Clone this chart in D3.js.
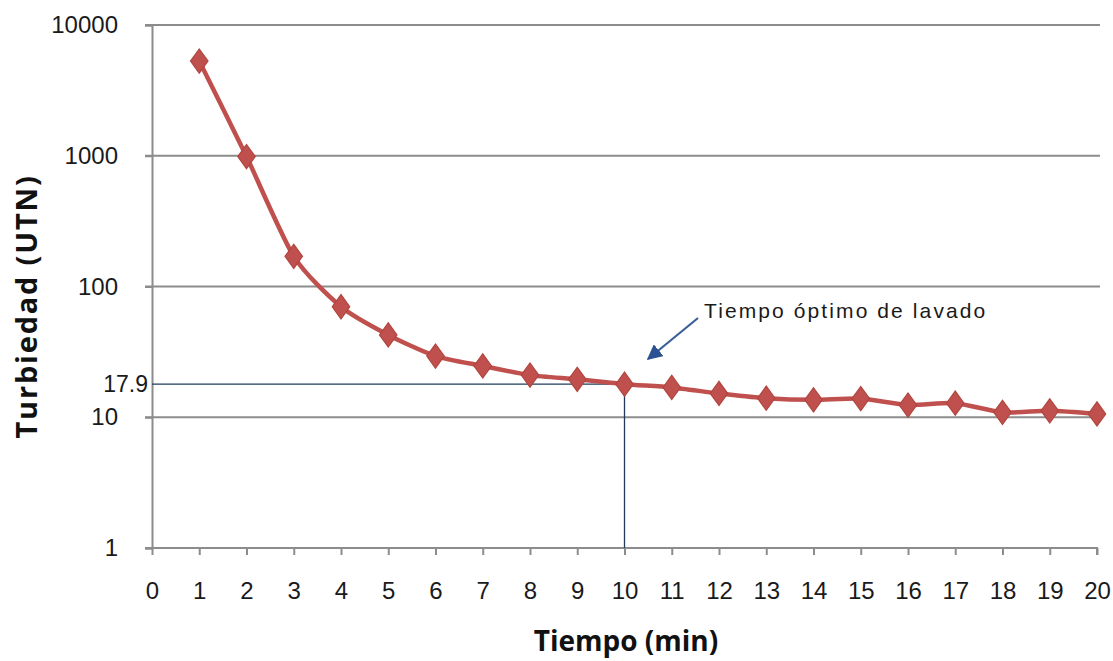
<!DOCTYPE html>
<html>
<head>
<meta charset="utf-8">
<script src="https://cdn.jsdelivr.net/npm/d3@7"></script>
<style>
  html, body { margin: 0; padding: 0; background: #fff; }
  svg { display: block; }
</style>
</head>
<body>
<svg id="chart" width="1113" height="661"></svg>
<script>
// Turbidity of wash water over time (log scale)
const minutes = [1, 2, 3, 4, 5, 6, 7, 8, 9, 10, 11, 12, 13, 14, 15, 16, 17, 18, 19, 20];
const turbidity = [5300, 985, 170, 70, 42.6, 29.4, 24.7, 21.0, 19.5, 17.9, 16.9, 15.2, 14.0, 13.6, 13.9, 12.4, 12.8, 10.9, 11.2, 10.6];
const xTicks = d3.range(0, 21);
const yTicks = [1, 10, 100, 1000, 10000];
const optimalTime = 10;
const optimalTurbidity = 17.9;
const annotationText = "Tiempo óptimo de lavado";
const xTitle = "Tiempo (min)";
const yTitle = "Turbiedad (UTN)";

const W = 1113, H = 661;
const margin = { top: 25, right: 16, bottom: 113, left: 152 };
const svg = d3.select("#chart");

const x = d3.scaleLinear().domain([0, 20]).range([margin.left, W - margin.right]);
const y = d3.scaleLog().domain([1, 10000]).range([H - margin.bottom, margin.top]);

const gridColor = "#8c8c8c";
const textColor = "#1a1a1a";
const tickFont = "'Liberation Sans', Arial, sans-serif";

// horizontal gridlines (with outward ticks on the value axis)
svg.append("g")
  .selectAll("line")
  .data(yTicks.filter(d => d > 1))
  .join("line")
  .attr("x1", x(0) - 7).attr("x2", x(20) + 3)
  .attr("y1", d => y(d)).attr("y2", d => y(d))
  .attr("stroke", gridColor).attr("stroke-width", 2);

// value axis
const yAxis = d3.axisLeft(y).tickValues(yTicks).tickFormat(d3.format("d")).tickSize(7).tickPadding(27);
const gy = svg.append("g").attr("transform", `translate(${x(0)},0)`).call(yAxis);
gy.select(".domain").attr("stroke", gridColor).attr("stroke-width", 2);
gy.selectAll(".tick line").attr("stroke", gridColor).attr("stroke-width", 2);
gy.selectAll(".tick text")
  .attr("fill", textColor)
  .style("font-family", tickFont).style("font-size", "24px");

// time axis
const xAxis = d3.axisBottom(x).tickValues(xTicks).tickFormat(d3.format("d")).tickSize(7).tickPadding(27);
const gx = svg.append("g").attr("transform", `translate(0,${y(1)})`).call(xAxis);
gx.select(".domain").attr("stroke", gridColor).attr("stroke-width", 2).attr("d", `M${x(0)-7},0H${x(20)}V7`);
gx.selectAll(".tick line").attr("stroke", gridColor).attr("stroke-width", 2);
gx.selectAll(".tick text")
  .attr("fill", textColor)
  .style("font-family", tickFont).style("font-size", "24px");

// reference lines marking the optimal washing time
const refColor = "#1f3b5c";
svg.append("line")
  .attr("x1", x(0)).attr("x2", x(optimalTime))
  .attr("y1", y(optimalTurbidity)).attr("y2", y(optimalTurbidity))
  .attr("stroke", refColor).attr("stroke-width", 1.3);
svg.append("line")
  .attr("x1", x(optimalTime)).attr("x2", x(optimalTime))
  .attr("y1", y(optimalTurbidity)).attr("y2", y(1))
  .attr("stroke", refColor).attr("stroke-width", 1.3);
svg.append("text")
  .attr("x", x(0) - 4).attr("y", y(optimalTurbidity))
  .attr("dy", "0.35em")
  .attr("text-anchor", "end")
  .attr("fill", textColor)
  .style("font-family", tickFont).style("font-size", "23px")
  .text(optimalTurbidity);

// data series: smoothed line with diamond markers
const points = minutes.map((m, i) => [m, turbidity[i]]);
const lineColor = "#c0504d";
svg.append("path")
  .datum(points)
  .attr("fill", "none")
  .attr("stroke", lineColor)
  .attr("stroke-width", 4.5)
  .attr("stroke-linejoin", "round")
  .attr("d", d3.line().x(d => x(d[0])).y(d => y(d[1])).curve(d3.curveCardinal.tension(0.3)));

const diamond = d3.symbol().type(d3.symbolDiamond).size(170);
svg.append("g")
  .selectAll("path")
  .data(points)
  .join("path")
  .attr("d", diamond)
  .attr("transform", d => `translate(${x(d[0])},${y(d[1])}) scale(1.25,1)`)
  .attr("fill", lineColor)
  .attr("stroke", "#b0453f")
  .attr("stroke-width", 1);

// annotation with arrow
const arrowColor = "#3a5f98";
svg.append("defs").append("marker")
  .attr("id", "arrowhead")
  .attr("viewBox", "0 0 10 10")
  .attr("refX", 9).attr("refY", 5)
  .attr("markerWidth", 7).attr("markerHeight", 7)
  .attr("markerUnits", "strokeWidth")
  .attr("orient", "auto")
  .append("path")
  .attr("d", "M0,0L10,5L0,10Z")
  .attr("fill", "#2d5291");
svg.append("line")
  .attr("x1", 698).attr("y1", 318)
  .attr("x2", 648).attr("y2", 359)
  .attr("stroke", arrowColor).attr("stroke-width", 2.2)
  .attr("marker-end", "url(#arrowhead)");
svg.append("text")
  .attr("x", 704).attr("y", 318)
  .attr("fill", textColor)
  .style("font-family", tickFont).style("font-size", "21px")
  .style("letter-spacing", "2.1px")
  .text(annotationText);

// axis titles
svg.append("text")
  .attr("x", 626).attr("y", 651)
  .attr("text-anchor", "middle")
  .attr("fill", "#111")
  .style("font-family", "'Open Sans', sans-serif").style("font-weight", "bold").style("font-size", "28px")
  .text(xTitle);
svg.append("text")
  .attr("transform", `translate(37,${(y(1) + y(10000)) / 2 + 20}) rotate(-90)`)
  .attr("text-anchor", "middle")
  .attr("fill", "#111")
  .style("font-family", "'Open Sans', sans-serif").style("font-weight", "bold").style("font-size", "29px")
  .style("letter-spacing", "1.8px")
  .text(yTitle);
</script>
</body>
</html>
